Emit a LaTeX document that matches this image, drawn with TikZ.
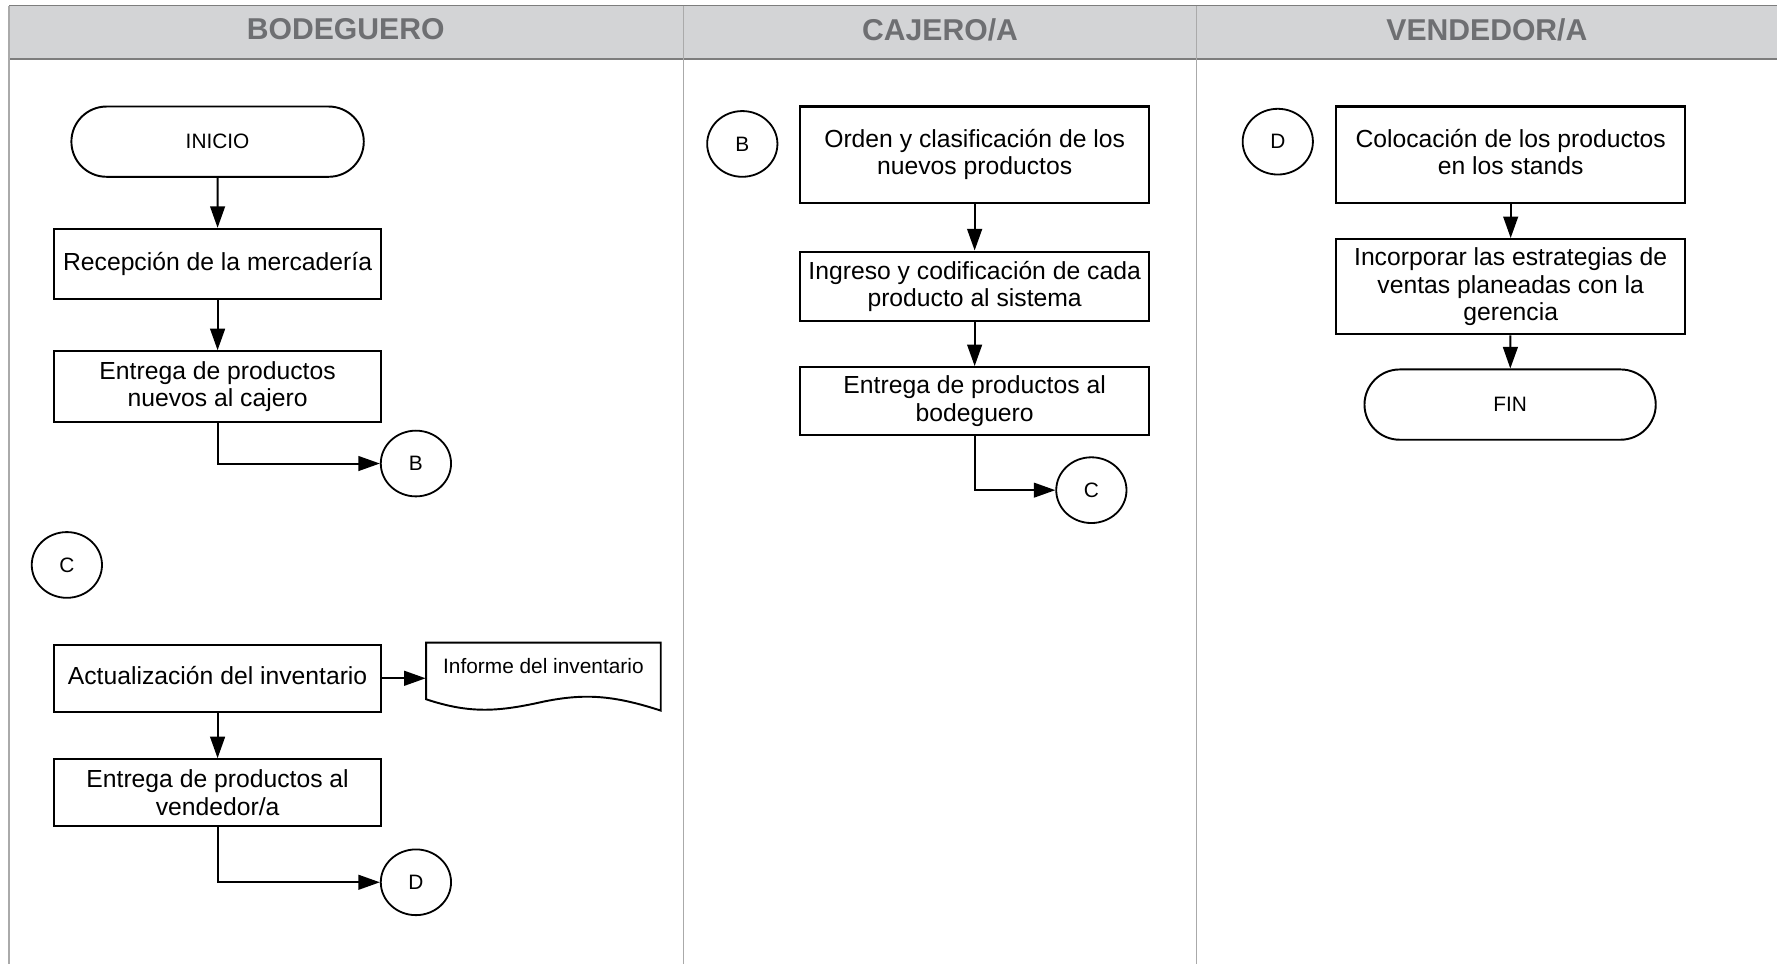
\documentclass[tikz,border=0pt]{standalone}
\usepackage{fontspec}
\setmainfont{Liberation Sans}
\usetikzlibrary{shapes.geometric,shapes.misc,arrows.meta}
\definecolor{hdrfill}{RGB}{211,212,214}
\definecolor{hdrtext}{RGB}{110,111,114}
\definecolor{hdrline}{RGB}{125,125,125}
\definecolor{laneline}{RGB}{170,170,170}
\tikzset{
  proc/.style={draw=black, line width=0.95pt, rectangle, inner sep=0pt, align=center,
    font=\fontsize{10.9}{12}\selectfont},
  procA/.style={proc, minimum width=144pt},
  procB/.style={proc, minimum width=154pt},
  term/.style={draw=black, line width=0.85pt, rounded rectangle, inner sep=0pt,
    minimum height=31pt, font=\fontsize{9.2}{11}\selectfont},
  conn/.style={draw=black, line width=0.8pt, ellipse, inner sep=0pt,
    minimum width=31pt, minimum height=29pt, font=\fontsize{9.2}{11}\selectfont},
  docbox/.style={rectangle, inner sep=0pt, minimum width=103.5pt, font=\fontsize{9.2}{11}\selectfont},
  arr/.style={draw=black, line width=0.9pt, -{Triangle[length=9.5pt,width=6.5pt]}},
  lanetitle/.style={font=\bfseries\fontsize{13.3}{15}\selectfont, text=hdrtext},
}
\begin{document}
\begin{tikzpicture}[x=0.5pt,y=-0.5pt]
\useasboundingbox (0,0) rectangle (1568,851);
% header band
\fill[hdrfill] (8,5) rectangle (1568,52);
\draw[hdrline, line width=0.6pt] (8,5) -- (1568,5);
\draw[hdrline, line width=0.6pt] (8,52) -- (1568,52);
\draw[laneline, line width=0.6pt] (8,5) -- (8,851);
\draw[laneline, line width=0.6pt] (603,5) -- (603,851);
\draw[laneline, line width=0.6pt] (1056,5) -- (1056,851);
\node[lanetitle] (h1) at (305,26) {BODEGUERO};
\node[lanetitle] (h2) at (829.5,26) {CAJERO/A};
\node[lanetitle] (h3) at (1312,26) {VENDEDOR/A};

% BODEGUERO lane
\node[term, minimum width=129pt] (ini) at (192,125) {INICIO};
\node[procA, minimum height=31pt] (rec) at (192,233) {Recepción de la mercadería};
\node[procA, minimum height=31pt] (ent1) at (192,341) {Entrega de productos\\nuevos al cajero};
\node[conn] (b1) at (367,409) {B};
\node[conn] (c1) at (59,498.5) {C};
\node[procA, minimum height=29.5pt] (act) at (192,598.5) {Actualización del inventario\vphantom{p}};
\node[docbox] (inf) at (479.5,588) {Informe del inventario};
\draw[line width=0.85pt] (376,617) -- (376,567) -- (583,567) -- (583,627)
  .. controls (540,613) and (515,612) .. (480,619)
  .. controls (440,628) and (415,630) .. (376,617) -- cycle;
\node[procA, minimum height=29.5pt] (ent2) at (192,699.5) {Entrega de productos al\\vendedor/a};
\node[conn] (d1) at (367,778.5) {D};

\draw[arr] (ini) -- (rec);
\draw[arr] (rec) -- (ent1);
\draw[arr] (ent1.south) |- (b1.west);
\draw[arr] (act.east) -- (act.east -| inf.west);
\draw[arr] (act) -- (ent2);
\draw[arr] (ent2.south) |- (d1.west);

% CAJERO lane
\node[conn] (b2) at (655,127) {B};
\node[procB, minimum height=42.5pt] (ord) at (860,136.5) {Orden y clasificación de los\\nuevos productos};
\node[procB, minimum height=30.5pt] (ing) at (860,252.5) {Ingreso y codificación de cada\\producto al sistema};
\node[procB, minimum height=30pt] (ent3) at (860,354) {Entrega de productos al\\bodeguero};
\node[conn] (c2) at (963,432.5) {C};
\draw[arr] (ord) -- (ing);
\draw[arr] (ing) -- (ent3);
\draw[arr] (ent3.south) |- (c2.west);

% VENDEDOR lane
\node[conn] (d2) at (1127.5,125) {D};
\node[procB, minimum height=42.5pt] (col) at (1333,136.5) {Colocación de los productos\\en los stands\vphantom{p}};
\node[procB, minimum height=42pt] (inc) at (1333,253) {Incorporar las estrategias de\\ventas planeadas con la\\gerencia};
\node[term, minimum width=128.5pt] (fin) at (1332.5,357) {FIN};
\draw[arr] (col) -- (inc);
\draw[arr] (inc) -- (fin);
\end{tikzpicture}
\end{document}
